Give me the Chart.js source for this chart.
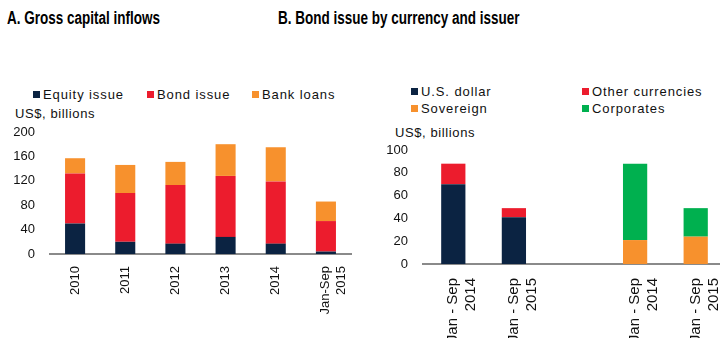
<!DOCTYPE html>
<html>
<head>
<meta charset="utf-8">
<script src="https://cdn.jsdelivr.net/npm/chart.js@4.4.0/dist/chart.umd.min.js"></script>
<style>
    body { margin: 0; width: 720px; height: 338px; overflow: hidden; background: #fff; position: relative; font-family: "Liberation Sans", Arial, sans-serif; }
    .title { position: absolute; top: 8px; font-weight: bold; font-size: 18px; color: #000; white-space: nowrap; transform: scaleX(0.75); transform-origin: left center; }
    .unit { position: absolute; font-size: 13px; letter-spacing: 0.6px; color: #111; white-space: nowrap; }
    .leg { position: absolute; font-size: 13px; letter-spacing: 0.9px; color: #111; white-space: nowrap; line-height: 14px; }
    .leg i { display: inline-block; width: 7px; height: 7px; margin-right: 3px; vertical-align: 1px; }
    canvas { position: absolute; top: 0; }
</style>
</head>
<body>
<div class="title" style="left:7px">A. Gross capital inflows</div>
<div class="title" style="left:278px">B. Bond issue by currency and issuer</div>
<div class="unit" style="left:15px; top:106px">US$, billions</div>
<div class="unit" style="left:395px; top:125px">US$, billions</div>
<div id="legendA"></div>
<div id="legendB"></div>
<canvas id="chartA" width="360" height="338" style="left:0"></canvas>
<canvas id="chartB" width="370" height="338" style="left:360px"></canvas>
<script>
// Panel A: gross capital inflows, US$ billions
const yearsA = ['2010', '2011', '2012', '2013', '2014', ['Jan-Sep', '2015']];
const equityIssue = [50, 20, 17, 28, 17, 4];
const bondIssue = [82, 80, 96, 100, 102, 50];
const bankLoans = [25, 46, 38, 52, 56, 32];

// Panel B: bond issue by currency and issuer, US$ billions (gap between the two groups)
const periodsB = [['Jan - Sep', '2014'], ['Jan - Sep', '2015'], '', ['Jan - Sep', '2014'], ['Jan - Sep', '2015']];
const usDollar = [70, 41, null, null, null];
const otherCurrencies = [18, 8, null, null, null];
const sovereign = [null, null, null, 21, 24];
const corporates = [null, null, null, 67, 25];

const navy = '#0b2342', red = '#ec1c2d', orange = '#f7912d', green = '#00b04f';

Chart.defaults.font.family = '"Liberation Sans", Arial, sans-serif';
Chart.defaults.font.size = 13;
Chart.defaults.color = '#111';

function legend(id, items) {
    const box = document.getElementById(id);
    items.forEach(function (it) {
        const d = document.createElement('div');
        d.className = 'leg';
        d.style.left = it.x + 'px';
        d.style.top = it.y + 'px';
        d.innerHTML = '<i style="background:' + it.color + '"></i>' + it.label;
        box.appendChild(d);
    });
}

legend('legendA', [
    { label: 'Equity issue', color: navy, x: 33, y: 88 },
    { label: 'Bond issue', color: red, x: 147, y: 88 },
    { label: 'Bank loans', color: orange, x: 252, y: 88 }
]);
legend('legendB', [
    { label: 'U.S. dollar', color: navy, x: 411, y: 85 },
    { label: 'Other currencies', color: red, x: 582, y: 85 },
    { label: 'Sovereign', color: orange, x: 411, y: 102 },
    { label: 'Corporates', color: green, x: 582, y: 102 }
]);

function makeChart(id, labels, datasets, max, step, yWidth, xHeight, pad, xFont, xPad) {
    const ctx = document.getElementById(id).getContext('2d');
    return new Chart(ctx, {
        type: 'bar',
        data: { labels: labels, datasets: datasets },
        options: {
            responsive: false,
            animation: false,
            layout: { padding: pad },
            plugins: { legend: { display: false }, tooltip: { enabled: false } },
            datasets: { bar: { categoryPercentage: 1, barPercentage: 0.4, borderWidth: 0 } },
            scales: {
                x: {
                    stacked: true,
                    grid: { display: false, drawTicks: false },
                    border: { display: true, color: '#8a8a8a', width: 2 },
                    ticks: { autoSkip: false, maxRotation: 90, minRotation: 90, padding: xPad, font: { size: xFont } },
                    afterFit: function (s) {
                        s.height = xHeight;
                        // keep the rotated labels from squeezing the plot area
                        s.paddingLeft = 0;
                        s.paddingRight = 0;
                    }
                },
                y: {
                    stacked: true,
                    min: 0,
                    max: max,
                    grid: { display: false, drawTicks: false },
                    border: { display: false },
                    ticks: { stepSize: step, padding: 15 },
                    afterFit: function (s) { s.width = yWidth; }
                }
            }
        }
    });
}

makeChart('chartA', yearsA, [
    { label: 'Equity issue', data: equityIssue, backgroundColor: navy },
    { label: 'Bond issue', data: bondIssue, backgroundColor: red },
    { label: 'Bank loans', data: bankLoans, backgroundColor: orange }
], 200, 40, 50, 84, { top: 132, right: 9, left: 0, bottom: 0 }, 13, 12);

makeChart('chartB', periodsB, [
    { label: 'U.S. dollar', data: usDollar, backgroundColor: navy },
    { label: 'Other currencies', data: otherCurrencies, backgroundColor: red },
    { label: 'Sovereign', data: sovereign, backgroundColor: orange },
    { label: 'Corporates', data: corporates, backgroundColor: green }
], 100, 20, 63, 74, { top: 150, right: 4, left: 0, bottom: 0 }, 15, 14);
</script>
</body>
</html>
